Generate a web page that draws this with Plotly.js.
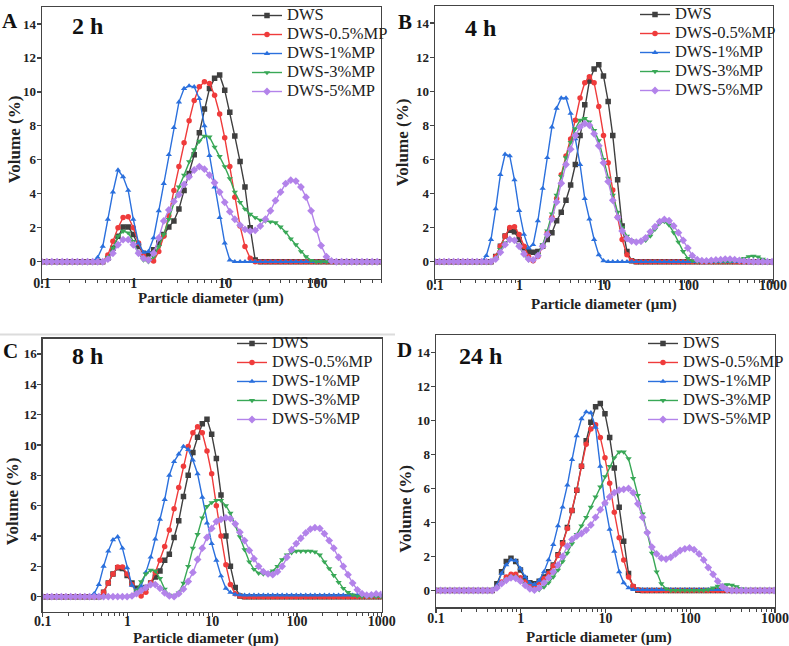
<!DOCTYPE html>
<html><head><meta charset="utf-8">
<script src="https://cdn.plot.ly/plotly-3.0.1.min.js"></script>
<style>html,body{margin:0;padding:0;background:#fff}</style>
</head><body><div id="chart" style="width:789px;height:646px"></div>
<script>
// particle size classes (µm)
const sizes = [0.0995,0.113,0.128,0.146,0.166,0.188,0.214,0.243,0.276,0.314,
 0.357,0.405,0.460,0.523,0.594,0.675,0.767,0.872,0.991,1.13,
 1.28,1.45,1.65,1.88,2.13,2.42,2.75,3.12,3.55,4.03,
 4.58,5.21,5.92,6.72,7.64,8.68,9.86,11.2,12.7,14.5,
 16.4,18.7,21.2,24.1,27.4,31.1,35.3,40.1,45.6,51.8,
 58.9,66.9,76.0,86.4,98.1,111,127,144,163,186,
 211,240,272,310,352,400,454,516,586,666,
 756,859,976];
const seriesNames = ['DWS','DWS-0.5%MP','DWS-1%MP','DWS-3%MP','DWS-5%MP'];
const panelLetters = ['A','B','C','D'];
const timeLabels = ['2 h','4 h','8 h','24 h'];

// ---- 2 h ----
const dws_2h = [0,0,0,0,0,0,0,0,0,0,
 0,0,0,0.2,0.8,1.5,2.05,2.05,1.6,0.9,
 0.5,0.45,0.7,1.1,1.6,2.05,2.4,3.1,4.2,5.2,
 6.3,7.6,9.0,10.2,10.8,11.0,10.1,8.8,7.4,5.9,
 4.4,2.0,0.1,0,0,0,0,0,0,0,
 0,0,0,0,0,0,0,0,0,0,
 0,0,0,0,0,0,0,0,0,0,
 0,0,0];
const mp05_2h = [0,0,0,0,0,0,0,0,0,0,
 0,0,0,0.4,1.2,2.0,2.6,2.65,2.0,1.1,
 0.4,0.1,0.05,0.6,1.5,2.7,4.2,5.6,7.0,8.3,
 9.5,10.3,10.6,10.5,9.8,8.7,7.3,5.6,3.8,2.1,
 0.9,0.2,0,0,0,0,0,0,0,0,
 0,0,0,0,0,0,0,0,0,0,
 0,0,0,0,0,0,0,0,0,0,
 0,0,0];
const mp1_2h = [0,0,0,0,0,0,0,0,0,0,
 0,0.25,0.9,2.5,4.1,5.4,5.0,4.2,2.5,1.1,
 0.55,0.6,1.4,3.0,4.6,6.3,7.9,9.4,10.2,10.35,
 10.3,9.6,8.0,6.25,4.4,2.6,1.1,0.1,0,0,
 0,0,0,0,0,0,0,0,0,0,
 0,0,0,0,0,0,0,0,0,0,
 0,0,0,0,0,0,0,0,0,0,
 0,0,0];
const mp3_2h = [0,0,0,0,0,0,0,0,0,0,
 0,0,0,0.25,0.8,1.5,1.8,1.7,1.2,0.5,
 0.1,0,0.3,0.9,1.6,2.5,3.5,4.4,5.1,5.9,
 6.6,7.1,7.4,7.35,6.75,6.2,5.6,4.9,4.1,3.5,
 3.1,2.8,2.6,2.45,2.4,2.35,2.3,2.05,1.75,1.35,
 1.0,0.6,0.3,0.08,0,0,0,0,0,0,
 0,0,0,0,0,0,0,0,0,0,
 0,0,0];
const mp5_2h = [0,0,0,0,0,0,0,0,0,0,
 0,0,0,0.15,0.5,1.0,1.3,1.3,1.0,0.5,
 0.2,0.1,0.5,1.4,2.4,3.05,3.55,3.95,4.55,5.0,
 5.4,5.6,5.45,5.1,4.65,4.1,3.5,2.95,2.5,2.15,
 1.9,1.8,1.85,2.1,2.5,3.0,3.6,4.1,4.6,4.8,
 4.75,4.4,3.8,3.0,1.9,0.95,0.3,0.05,0,0,
 0,0,0,0,0,0,0,0,0,0,
 0,0,0];

// ---- 4 h ----
const dws_4h = [0,0,0,0,0,0,0,0,0,0,
 0,0,0,0.3,0.9,1.5,1.85,1.75,1.3,0.8,
 0.6,0.55,0.6,0.9,1.3,1.7,2.4,2.9,3.6,4.5,
 5.7,7.4,9.2,10.6,11.3,11.55,10.9,9.4,7.4,4.8,
 2.1,0.6,0.05,0,0,0,0,0,0,0,
 0,0,0,0,0,0,0,0,0,0,
 0,0,0,0,0,0,0,0,0,0,
 0,0,0];
const mp05_4h = [0,0,0,0,0,0,0,0,0,0,
 0,0,0,0.3,0.9,1.5,2.0,2.05,1.6,0.9,
 0.3,0.05,0.3,0.9,1.7,2.6,3.7,5.1,6.2,7.2,
 8.3,9.6,10.5,10.85,10.5,9.1,7.4,5.8,4.2,2.6,
 1.3,0.4,0.05,0,0,0,0,0,0,0,
 0,0,0,0,0,0,0,0,0,0,
 0,0,0,0,0,0,0,0,0,0,
 0,0,0];
const mp1_4h = [0,0,0,0,0,0,0,0,0,0,
 0,0.35,1.3,3.1,5.1,6.3,6.2,4.8,3.0,1.6,
 0.8,1.0,2.4,4.3,6.1,7.9,9.0,9.6,9.6,8.7,
 7.2,5.7,3.7,2.5,1.3,0.4,0.05,0,0,0,
 0,0,0,0,0,0,0,0,0,0,
 0,0,0,0,0,0,0,0,0,0,
 0,0,0,0,0,0,0,0,0,0,
 0,0,0];
const mp3_4h = [0,0,0,0,0,0,0,0,0,0,
 0,0,0,0.2,0.7,1.1,1.3,1.25,0.9,0.4,
 0.1,0.05,0.4,1.0,1.8,2.8,3.9,5.0,6.1,7.0,
 7.8,8.3,8.4,8.2,7.7,7.1,6.0,4.9,3.9,2.9,
 2.0,1.5,1.25,1.15,1.15,1.25,1.5,1.9,2.25,2.35,
 2.15,1.7,1.15,0.6,0.2,0.05,0,0,0,0,
 0,0,0,0,0.02,0.1,0.2,0.3,0.33,0.28,
 0.15,0.05,0];
const mp5_4h = [0,0,0,0,0,0,0,0,0,0,
 0,0,0,0.15,0.55,1.0,1.3,1.25,0.9,0.45,
 0.15,0.1,0.35,0.9,1.6,2.5,3.5,4.6,5.7,6.6,
 7.4,7.9,8.1,8.0,7.5,6.8,5.8,4.7,3.6,2.6,
 1.8,1.35,1.2,1.15,1.2,1.4,1.75,2.05,2.35,2.48,
 2.4,2.1,1.7,1.25,0.8,0.35,0.12,0.06,0.05,0.08,
 0.1,0.12,0.15,0.15,0.12,0.08,0.04,0.02,0,0,
 0,0,0];

// ---- 8 h ----
const dws_8h = [0,0,0,0,0,0,0,0,0,0,
 0,0,0,0.3,0.9,1.5,1.9,1.85,1.4,0.9,
 0.55,0.45,0.6,0.9,1.3,1.7,2.4,2.8,3.9,5.0,
 6.6,8.0,9.5,10.5,11.4,11.7,10.7,9.1,6.7,4.0,
 2.0,0.6,0.05,0,0,0,0,0,0,0,
 0,0,0,0,0,0,0,0,0,0,
 0,0,0,0,0,0,0,0,0,0,
 0,0,0];
const mp05_8h = [0,0,0,0,0,0,0,0,0,0,
 0,0,0,0.3,0.9,1.5,1.95,1.95,1.5,0.8,
 0.3,0.05,0.3,0.9,1.6,2.4,3.3,4.4,5.8,7.2,
 8.6,9.9,10.8,11.2,10.8,9.6,8.1,6.0,4.0,2.1,
 0.8,0.2,0.05,0,0,0,0,0,0,0,
 0,0,0,0,0,0,0,0,0,0,
 0,0,0,0,0,0,0,0,0,0,
 0,0,0];
const mp1_8h = [0,0,0,0,0,0,0,0,0,0,
 0,0.2,0.8,2.0,3.0,3.75,3.95,3.2,1.9,0.75,
 0.4,0.7,1.6,2.6,3.8,5.1,6.4,8.0,8.9,9.4,
 9.9,9.7,9.0,8.1,6.55,4.85,3.5,2.4,1.37,0.55,
 0.28,0.15,0.12,0.1,0.1,0.1,0.1,0.1,0.1,0.1,
 0.1,0.1,0.1,0.1,0.1,0.1,0.1,0.1,0.1,0.1,
 0.1,0.1,0.1,0.1,0.1,0.1,0.1,0.1,0.1,0.1,
 0.1,0.1,0.1];
const mp3_8h = [0,0,0,0,0,0,0,0,0,0,
 0,0,0,0,0,0,0,0,0,0.05,
 0.4,1.0,1.5,1.75,1.7,1.2,0.5,0.1,0.05,0.25,
 0.9,2.0,3.2,4.1,5.2,5.95,6.2,6.35,6.35,6.0,
 5.5,4.7,3.95,3.1,2.3,1.8,1.55,1.5,1.55,1.7,
 2.0,2.45,2.75,2.9,3.0,3.0,3.0,3.0,2.95,2.75,
 2.3,1.85,1.4,0.95,0.55,0.28,0.12,0.04,0,0,
 0,0,0];
const mp5_8h = [0,0,0,0,0,0,0,0,0,0,
 0,0,0,0,0,0,0,0,0,0.05,
 0.2,0.4,0.6,0.8,0.8,0.55,0.25,0.05,0,0.2,
 0.5,1.0,1.6,2.45,3.2,3.9,4.5,4.95,5.1,5.2,
 5.15,4.8,4.25,3.7,3.05,2.5,2.0,1.65,1.5,1.45,
 1.65,2.0,2.6,3.1,3.5,3.85,4.2,4.45,4.55,4.5,
 4.15,3.7,3.2,2.6,2.0,1.45,0.9,0.45,0.2,0.1,
 0.12,0.18,0.15];

// ---- 24 h ----
const dws_24h = [0,0,0,0,0,0,0,0,0,0,
 0,0,0,0.4,1.1,1.7,1.9,1.7,1.2,0.7,
 0.45,0.4,0.55,0.8,1.1,1.5,2.1,2.8,3.7,4.7,
 5.9,7.3,8.8,9.9,10.8,11.0,10.4,9.0,7.2,4.9,
 2.9,1.0,0.2,0.02,0,0,0,0,0,0,
 0,0,0,0,0,0,0,0,0,0,
 0,0,0,0,0,0,0,0,0,0,
 0,0,0];
const mp05_24h = [0,0,0,0,0,0,0,0,0,0,
 0,0,0,0.2,0.5,0.8,0.95,0.95,0.75,0.5,
 0.3,0.25,0.45,0.7,1.0,1.45,2.05,2.75,3.65,4.7,
 5.9,7.3,8.6,9.5,9.75,9.0,7.8,6.3,4.6,3.1,
 1.8,0.8,0.25,0.05,0,0,0,0,0,0,
 0,0,0,0,0,0,0,0,0,0,
 0,0,0,0,0,0,0,0,0,0,
 0,0,0];
const mp1_24h = [0,0,0,0,0,0,0,0,0,0,
 0,0,0,0.3,1.0,1.5,1.8,1.75,1.3,0.8,
 0.45,0.35,0.6,1.1,1.8,2.7,3.8,4.9,6.2,7.7,
 9.1,10.1,10.5,10.45,9.6,7.3,5.1,3.6,2.3,1.1,
 0.45,0.15,0.05,0.05,0.05,0.05,0.05,0.05,0.05,0.05,
 0.05,0.05,0.05,0.05,0.05,0.05,0.05,0.05,0.05,0.05,
 0.05,0.05,0.05,0,0,0,0,0,0,0,
 0,0,0];
const mp3_24h = [0,0,0,0,0,0,0,0,0,0,
 0,0,0,0.15,0.4,0.65,0.8,0.78,0.6,0.35,
 0.15,0.05,0.05,0.2,0.45,0.8,1.2,1.7,2.2,2.75,
 3.3,3.8,4.3,4.9,5.5,6.1,6.7,7.3,7.8,8.15,
 8.15,7.75,6.6,5.6,4.5,3.4,2.2,1.1,0.4,0.1,
 0,0,0,0,0,0,0,0,0.05,0.15,
 0.25,0.32,0.35,0.32,0.22,0.1,0.03,0,0,0,
 0,0,0];
const mp5_24h = [0,0,0,0,0,0,0,0,0,0,
 0,0,0,0.15,0.4,0.6,0.75,0.72,0.55,0.3,
 0.1,0.02,0.15,0.45,0.75,1.1,1.5,2.0,2.6,3.0,
 3.2,3.35,3.55,3.85,4.3,4.75,5.15,5.5,5.75,5.9,
 5.95,6.0,5.75,5.1,4.3,3.4,2.55,2.15,1.9,1.85,
 1.95,2.15,2.35,2.45,2.5,2.4,2.15,1.8,1.35,0.95,
 0.55,0.22,0.05,0,0,0,0,0,0,0,
 0,0,0];

const panels = [
  [dws_2h, mp05_2h, mp1_2h, mp3_2h, mp5_2h],
  [dws_4h, mp05_4h, mp1_4h, mp3_4h, mp5_4h],
  [dws_8h, mp05_8h, mp1_8h, mp3_8h, mp5_8h],
  [dws_24h, mp05_24h, mp1_24h, mp3_24h, mp5_24h]
];

const W = 789, H = 646;
const colors = ['#3f3f3f','#ef3b3b','#2b70dd','#39a857','#b383ea'];
const symbols = ['square','circle','triangle-up','triangle-down','diamond'];
// plot frames in pixels [left, right, top, bottom]
const frames = [[42,381,4,277],[435,773,3,277],[42.7,381.7,337.3,611.7],[436,775,334,607.3]];
const xMax = [Math.log10(500),3,3,3];
const yMax = [15,15,17,15];
const legendPos = [[247,-2],[635,-3.5],[232,327.5],[643,327.5]];
const xLabelShift = [-13, -11, -8, -7];

const serif = 'Liberation Serif, Times New Roman, serif';
const traces = [];
panels.forEach((series, p) => {
  const sfx = p === 0 ? '' : String(p + 1);
  series.forEach((ys, s) => {
    traces.push({
      type: 'scatter', mode: 'lines+markers',
      x: sizes, y: ys,
      xaxis: 'x' + sfx, yaxis: 'y' + sfx,
      legend: 'legend' + sfx,
      name: '<span style="font-size:16.5px">' + seriesNames[s] + '</span>',
      line: {color: colors[s], width: 1.4},
      marker: {symbol: symbols[s], size: s === 4 ? 6 : 5.5, color: colors[s]}
    });
  });
});

const minorVals = [];
[0.1, 1, 10, 100].forEach(d => { for (let k = 2; k <= 9; k++) minorVals.push(k * d); });

const layout = {
  width: W, height: H,
  margin: {l: 0, r: 0, t: 0, b: 0},
  paper_bgcolor: '#fff', plot_bgcolor: '#fff',
  font: {family: serif, color: '#222'},
  annotations: [], shapes: [
    {type: 'line', xref: 'paper', yref: 'paper', x0: 0, x1: 395 / W, y0: 1 - 333 / H, y1: 1 - 333 / H,
     line: {color: '#dcdcdc', width: 2}}
  ]
};

const xTitlePos = [[211, 297], [604, 303], [206, 638], [599, 637]];
const yTitlePos = [[14, 137], [402, 140], [12.5, 501], [406, 508]];
const letterPos = [[10, 18.5], [404.5, 19], [10.5, 350], [404, 348.5]];
const timePos = [[87.5, 23.5], [480.5, 25], [87.5, 355], [480.5, 355]];

frames.forEach((f, p) => {
  const sfx = p === 0 ? '' : String(p + 1);
  const ticksX = p === 0 ? [0.1, 1, 10, 100] : [0.1, 1, 10, 100, 1000];
  const yt = [];
  for (let v = 0; v <= yMax[p] - 1; v += 2) yt.push(v);
  layout['xaxis' + sfx] = {
    type: 'log', domain: [f[0] / W, f[1] / W], anchor: 'y' + sfx,
    range: [-1, xMax[p]], tickvals: ticksX, ticktext: ticksX.map(String),
    ticks: 'outside', ticklen: 4, tickwidth: 1.2, tickcolor: '#444',
    ticklabelstandoff: xLabelShift[p],
    minor: {tickvals: minorVals, ticks: 'outside', ticklen: 3, tickwidth: 1, tickcolor: '#444', showgrid: false},
    showline: true, mirror: true, linecolor: '#444', linewidth: 1.4,
    showgrid: false, zeroline: false,
    tickfont: {family: serif, size: 14, weight: 'bold', color: '#222'}
  };
  layout['yaxis' + sfx] = {
    domain: [1 - f[3] / H, 1 - f[2] / H], anchor: 'x' + sfx,
    range: [-1, yMax[p]], tickvals: yt,
    ticks: 'outside', ticklen: 4, tickwidth: 1.2, tickcolor: '#444',
    ticklabelstandoff: -2,
    showline: true, mirror: true, linecolor: '#444', linewidth: 1.4,
    showgrid: false, zeroline: false,
    tickfont: {family: serif, size: 13, weight: 'bold', color: '#222'}
  };
  layout['legend' + sfx] = {
    x: legendPos[p][0] / W, y: 1 - legendPos[p][1] / H, xanchor: 'left', yanchor: 'top',
    bgcolor: 'rgba(0,0,0,0)', borderwidth: 0, itemwidth: 30,
    font: {family: serif, size: 12, color: '#222'}
  };
  layout.annotations.push(
    {xref: 'paper', yref: 'paper', x: xTitlePos[p][0] / W, y: 1 - xTitlePos[p][1] / H,
     text: 'Particle diameter (µm)', showarrow: false, xanchor: 'center', yanchor: 'middle',
     font: {family: serif, size: 15, weight: 'bold', color: '#222'}},
    {xref: 'paper', yref: 'paper', x: yTitlePos[p][0] / W, y: 1 - yTitlePos[p][1] / H,
     text: 'Volume (%)', textangle: -90, showarrow: false, xanchor: 'center', yanchor: 'middle',
     font: {family: serif, size: 17, weight: 'bold', color: '#222'}},
    {xref: 'paper', yref: 'paper', x: letterPos[p][0] / W, y: 1 - letterPos[p][1] / H,
     text: panelLetters[p], showarrow: false, xanchor: 'center', yanchor: 'middle',
     font: {family: serif, size: 21, weight: 'bold', color: '#111'}},
    {xref: 'paper', yref: 'paper', x: timePos[p][0] / W, y: 1 - timePos[p][1] / H,
     text: timeLabels[p], showarrow: false, xanchor: 'center', yanchor: 'middle',
     font: {family: serif, size: 24, weight: 'bold', color: '#111'}}
  );
});

Plotly.newPlot('chart', traces, layout, {displayModeBar: false, staticPlot: true});
</script>
</body></html>
